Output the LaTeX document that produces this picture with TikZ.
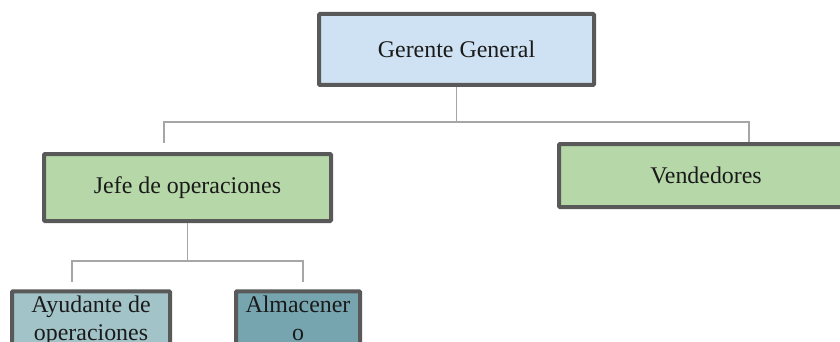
\documentclass[tikz,border=0pt]{standalone}
\usepackage{fontspec}
\setmainfont{Liberation Serif}
\usetikzlibrary{positioning,calc}
\definecolor{borde}{HTML}{595959}
\definecolor{linea}{HTML}{A6A6A6}
\definecolor{texto}{HTML}{1A1A1A}
\definecolor{azulgg}{HTML}{CFE2F3}
\definecolor{verde}{HTML}{B6D7A8}
\definecolor{ayudante}{HTML}{A2C4C9}
\definecolor{almacen}{HTML}{76A5AF}

\begin{document}
\begin{tikzpicture}[
			x=1pt, y=-1pt, % pixel units
			puesto/.style={rectangle, draw=borde, line width=4pt, rounded corners=1pt, inner sep=0pt, text=texto, align=center, font=\fontsize{23.9}{27.6}\selectfont},
			enlace/.style={draw=linea, line width=1.3pt}]
		\clip (0,0) rectangle (840,342);
		\path 	(456.5,49.5) 	node 	(gg) [puesto, fill=azulgg, minimum width=275pt, minimum height=71pt] {Gerente General}
		        (187.5,187.5) 	node 	(jefe) [puesto, fill=verde, minimum width=287pt, minimum height=67pt] {Jefe de operaciones}
		        (706,175.5) 	node  	(vend) [puesto, fill=verde, minimum width=294pt, minimum height=63pt] {Vendedores}
		        (91,289.3) 	node 	(ayud) [puesto, anchor=north, fill=ayudante, minimum width=158pt, inner ysep=5pt, text depth=48pt] {Ayudante de\\operaciones}
		        (298,289.3) 	node 	(alm) [puesto, anchor=north, fill=almacen, minimum width=124pt, inner ysep=5pt, text depth=48pt] {Almacener\\o};
		\coordinate (bus1) at (0,122);
		\coordinate (bus2) at (0,261);
		\coordinate (jefe in) at (164,143);
		\coordinate (vend in) at (749,142);
		\coordinate (ayud in) at (72,282);
		\coordinate (alm in) at (303,282);
		\draw [enlace] (gg.south) -- (gg.south |- bus1) -| (jefe in);
		\draw [enlace] (gg.south |- bus1) -| (vend in);
		\draw [enlace] (jefe.south) -- (jefe.south |- bus2) -| (ayud in);
		\draw [enlace] (jefe.south |- bus2) -| (alm in);
	\end{tikzpicture}
\end{document}
